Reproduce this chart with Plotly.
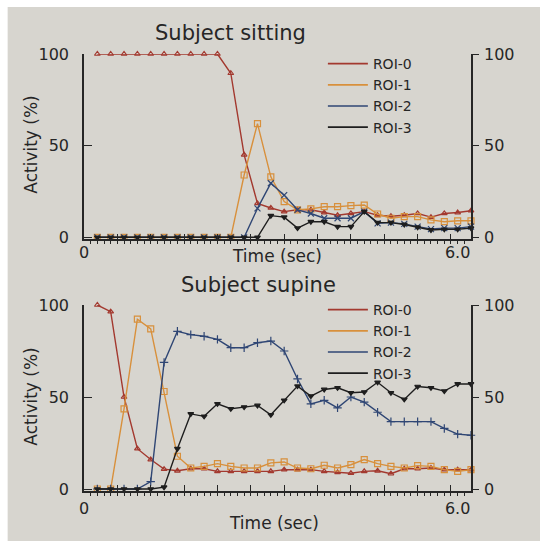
import plotly.graph_objects as go

# ---------------- data ----------------
frames = list(range(1, 30))           # 29 samples
frame_dt = 6.0 / 28                   # seconds per frame
times = [f * frame_dt for f in frames]

series_names = ["ROI-0", "ROI-1", "ROI-2", "ROI-3"]

sit_roi0 = [100, 100, 100, 100, 100, 100, 100, 100, 100, 100, 89.5, 45, 18.5, 16, 14,
            15, 15, 13.5, 12, 13, 14, 12, 11.5, 12, 13, 11, 13, 13.5, 14.5]
sit_roi1 = [0, 0, 0, 0, 0, 0, 0, 0, 0, 0, 0, 34, 62, 33, 19.5,
            15, 15.5, 16.7, 16.7, 17.3, 17.6, 12.7, 10.4, 11.3, 11.3, 9.5, 8.5, 9, 9]
sit_roi2 = [0, 0, 0, 0, 0, 0, 0, 0, 0, 0, 0, 0, 15.8, 29.5, 23,
            15, 13, 10.4, 10.4, 10.4, 14, 7.6, 8, 7.3, 5.8, 4.5, 5, 5, 5.8]
sit_roi3 = [0, 0, 0, 0, 0, 0, 0, 0, 0, 0, 0, 0, 0, 11.8, 11,
            5, 8.5, 8.5, 5.8, 5.8, 14, 8, 8, 7, 5.5, 4, 4.4, 4.4, 5]

sup_roi0 = [100, 96.4, 50, 21.9, 16, 10.8, 9.9, 11, 11, 9.6, 9.6, 9.6, 9.6, 9.6, 10.5,
            10.5, 10.5, 9.6, 9, 8.6, 9.6, 9.9, 8.3, 11, 11, 11.4, 10.5, 10.5, 10.5]
sup_roi1 = [0, 0, 43.6, 92.3, 87, 53, 17.8, 11.4, 12.3, 13.8, 12.3, 11.4, 11.4, 14.2, 14.7,
            11.4, 11, 12.9, 11.4, 13.2, 16, 13.8, 12.3, 11.4, 12.7, 12.3, 10.5, 9.6, 10.5]
sup_roi2 = [0, 0, 0, 0, 4, 68.8, 85.7, 83.9, 83, 81.3, 76.8, 76.8, 79.5, 80.4, 75,
            59.8, 46.3, 48.2, 44.1, 50, 47.2, 41.7, 36.6, 36.6, 36.6, 36.6, 32.9, 29.8, 29.2]
sup_roi3 = [0, 0, 0, 0, 0, 1, 21.9, 40.8, 39.5, 46.3, 43.6, 44.5, 45.4, 40.3, 48.2,
            55.9, 50.5, 54.1, 55, 52.3, 52.7, 58, 52.3, 48.7, 55.7, 55, 53.2, 57.1, 57.1]

y_tick_vals = [0, 50, 100]
y_tick_text = ["0", "50", "100"]
x_label_vals = [0, 6.0]
x_label_text = ["0", "6.0"]
panel_titles = ["Subject sitting", "Subject supine"]
x_title = "Time (sec)"
y_title = "Activity (%)"

# ---------------- style ----------------
W, H = 540, 541
L, R = 84.3, 69
BG = "#d7d5cf"
INK = "#262626"
FONT = "DejaVu Sans"
colors = ["#a3392f", "#d8903c", "#2f4674", "#1e1e1e"]
line_w = 1.4

x_range = [0, 29 * frame_dt]
y_range = [-1.2, 100]

def dom(px_top100, px_zero):
    unit = (px_zero - px_top100) / 100.0
    px_bottom = px_zero + 1.2 * unit
    return [1 - px_bottom / H, 1 - px_top100 / H]

dom_top = dom(54, 237.3)
dom_bot = dom(305, 489)

fig = go.Figure()

panels = [
    ("x", "y", [sit_roi0, sit_roi1, sit_roi2, sit_roi3], "x-thin"),
    ("x2", "y2", [sup_roi0, sup_roi1, sup_roi2, sup_roi3], "cross-thin"),
]
for xa, ya, data, roi2_sym in panels:
    syms = ["triangle-up-open", "square-open", roi2_sym, "triangle-down"]
    sizes = [5, 6, 6, 5]
    for i, vals in enumerate(data):
        fig.add_trace(go.Scatter(
            x=times, y=vals, xaxis=xa, yaxis=ya, mode="lines+markers",
            line=dict(color=colors[i], width=line_w),
            marker=dict(symbol=syms[i], size=sizes[i], color=colors[i],
                        line=dict(color=colors[i], width=1.2)),
            showlegend=False, cliponaxis=False, hoverinfo="skip"))

# empty traces so the overlay axes (labels, right-hand scale) are drawn
for xa, ya in [("x3", "y"), ("x", "y3"), ("x4", "y2"), ("x2", "y4")]:
    fig.add_trace(go.Scatter(x=[None], y=[None], xaxis=xa, yaxis=ya,
                             mode="lines", showlegend=False, hoverinfo="skip"))

# legend-only entries (line samples without markers)
for lg, xa, ya in [("legend", "x", "y"), ("legend2", "x2", "y2")]:
    for i, name in enumerate(series_names):
        fig.add_trace(go.Scatter(
            x=[None], y=[None], xaxis=xa, yaxis=ya, mode="lines", name=name,
            line=dict(color=colors[i], width=1.7), legend=lg, showlegend=True))

axis_font = dict(family=FONT, size=16, color=INK)

def xaxis_main(anchor):
    return dict(range=x_range, domain=[0, 1], anchor=anchor,
                showline=True, linecolor=INK, linewidth=1.6,
                showgrid=False, zeroline=False, showticklabels=False,
                tickmode="linear", tick0=0, dtick=2.5 * frame_dt,
                ticks="inside", ticklen=6, tickwidth=1.2, tickcolor=INK,
                minor=dict(tickmode="linear", tick0=0, dtick=0.5 * frame_dt,
                           ticks="outside", ticklen=3, tickwidth=1, tickcolor=INK))

def xaxis_labels(anchor, over, standoff):
    return dict(range=x_range, domain=[0, 1], anchor=anchor, overlaying=over,
                showline=False, showgrid=False, zeroline=False,
                tickmode="array", tickvals=x_label_vals, ticktext=x_label_text,
                ticks="", tickfont=axis_font, ticklabelstandoff=standoff)

def yaxis_left(anchor, d):
    return dict(range=y_range, domain=d, anchor=anchor,
                showline=True, linecolor=INK, linewidth=1.6,
                showgrid=False, zeroline=False,
                tickmode="array", tickvals=y_tick_vals, ticktext=y_tick_text,
                ticks="inside", ticklen=8, tickwidth=1.4, tickcolor=INK,
                tickfont=axis_font, ticklabelstandoff=10)

def yaxis_right(anchor, over, d):
    return dict(range=y_range, domain=d, anchor=anchor, overlaying=over, side="right",
                showline=True, linecolor=INK, linewidth=1.6,
                showgrid=False, zeroline=False,
                tickmode="array", tickvals=y_tick_vals, ticktext=y_tick_text,
                ticks="outside", ticklen=6, tickwidth=1.4, tickcolor=INK,
                tickfont=axis_font, ticklabelstandoff=2)

leg_common = dict(xanchor="left", yanchor="top", bgcolor="rgba(0,0,0,0)",
                  font=dict(family=FONT, size=14, color=INK), tracegroupgap=0,
                  itemwidth=40)

PW = W - L - R

fig.update_layout(
    width=W, height=H,
    margin=dict(l=L, r=R, t=0, b=0, autoexpand=False),
    paper_bgcolor=BG, plot_bgcolor=BG,
    font=dict(family=FONT, color=INK),
    xaxis=xaxis_main("y"),
    xaxis2=xaxis_main("y2"),
    xaxis3=xaxis_labels("y", "x", 2),
    xaxis4=xaxis_labels("y2", "x2", 6),
    yaxis=yaxis_left("x", dom_top),
    yaxis2=yaxis_left("x2", dom_bot),
    yaxis3=yaxis_right("x", "y", dom_top),
    yaxis4=yaxis_right("x2", "y2", dom_bot),
    legend=dict(x=(323 - L) / PW, y=1 - 48 / H, **leg_common),
    legend2=dict(x=(323 - L) / PW, y=1 - 294 / H, **leg_common),
    showlegend=True,
)

# panel titles
for txt, cx, cy in [(panel_titles[0], 231, 33), (panel_titles[1], 259, 285)]:
    fig.add_annotation(text=txt, xref="paper", yref="paper",
                       x=(cx - L) / PW, y=1 - cy / H,
                       xanchor="center", yanchor="middle", showarrow=False,
                       font=dict(family=FONT, size=21, color=INK))

# x-axis titles, on the same row as the tick labels as in the reference
for cx, cy in [(277, 256), (274, 523)]:
    fig.add_annotation(text=x_title, xref="paper", yref="paper",
                       x=(cx - L) / PW, y=1 - cy / H,
                       xanchor="center", yanchor="middle", showarrow=False,
                       font=dict(family=FONT, size=17, color=INK))

# y-axis titles (rotated)
for cx, cy in [(31, 145), (31, 397)]:
    fig.add_annotation(text=y_title, xref="paper", yref="paper",
                       x=(cx - L) / PW, y=1 - cy / H, textangle=-90,
                       xanchor="center", yanchor="middle", showarrow=False,
                       font=dict(family=FONT, size=17, color=INK))

# white scan margins on the top and left edges
fig.add_shape(type="rect", xref="paper", yref="paper", x0=-L / PW, x1=(W - L) / PW,
              y0=1 - 7 / H, y1=1.0, fillcolor="white", line_width=0, layer="below")
fig.add_shape(type="rect", xref="paper", yref="paper", x0=-L / PW, x1=-(L - 8) / PW,
              y0=0, y1=1, fillcolor="white", line_width=0, layer="below")

fig.write_html("out.html")
